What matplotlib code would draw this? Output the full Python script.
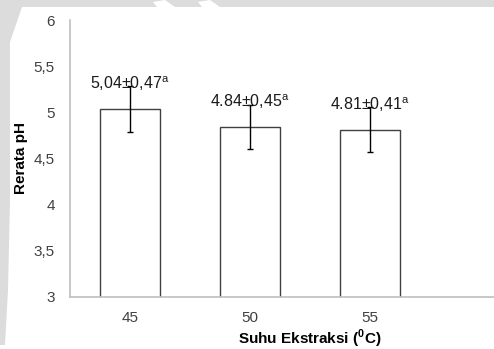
import matplotlib
matplotlib.use('Agg')
import matplotlib.pyplot as plt
from matplotlib.patches import Polygon, Rectangle

# pH rata-rata per suhu ekstraksi
suhu = ['45', '50', '55']
rerata_ph = [5.04, 4.84, 4.81]
sd_ph = ['0,47', '0,45', '0,41']
label_prefix = ['5,04', '4.84', '4.81']
notasi = ['a', 'a', 'a']
err_bar = [0.25, 0.24, 0.245]

yticks = [3, 3.5, 4, 4.5, 5, 5.5, 6]
ytick_labels = ['3', '3,5', '4', '4,5', '5', '5,5', '6']

plt.rcParams['font.family'] = ['Liberation Sans', 'DejaVu Sans']
plt.rcParams['mathtext.fontset'] = 'custom'
plt.rcParams['mathtext.rm'] = 'Liberation Sans'
plt.rcParams['mathtext.bf'] = 'Liberation Sans:bold'

W, H = 494, 349
fig = plt.figure(figsize=(W / 100, H / 100), dpi=100)


def px(x, y):
    return (x / W, 1 - y / H)


# background shading behind the chart
shade = '#dcdcdc'
fig.patches.append(Rectangle(px(0, 7), 1, 7 / H, transform=fig.transFigure,
                             facecolor=shade, edgecolor='none', zorder=0))
fig.patches.append(Polygon([px(0, 0), px(24, 0), px(22, 7), px(10, 42), px(10, 200),
                            px(8, 290), px(5, 345), px(0, 345)],
                           transform=fig.transFigure, facecolor=shade,
                           edgecolor='none', zorder=0))
for x0 in (153, 198):
    fig.patches.append(Polygon([px(x0, 2), px(x0 + 12, 0), px(x0 + 22, 7), px(x0 + 4, 7)],
                               transform=fig.transFigure, facecolor='white',
                               edgecolor='none', zorder=0))

ax = fig.add_axes([70 / W, 1 - 297 / H, 480 / W, 277 / H])
ax.set_facecolor('none')

pos = list(range(len(suhu)))
ax.bar(pos, rerata_ph, width=0.5, color='white', edgecolor='#404040', linewidth=1.0, zorder=2)
ax.errorbar(pos, rerata_ph, yerr=err_bar, fmt='none', ecolor='black',
            elinewidth=1.0, capsize=2.3, capthick=1.0, zorder=3)

for x, m, p, s, n in zip(pos, rerata_ph, label_prefix, sd_ph, notasi):
    ax.annotate(p + '±' + s + '$^{\\mathrm{' + n + '}}$', (x, m), xytext=(0, 18),
                textcoords='offset points', ha='center', va='center',
                fontsize=11.5, color='#1a1a1a', zorder=4)

ax.set_xlim(-0.5, 3.5)
ax.set_ylim(3, 6)
ax.set_xticks(pos)
ax.set_xticklabels(suhu)
ax.set_yticks(yticks)
ax.set_yticklabels(ytick_labels)
ax.tick_params(length=0, labelsize=11, labelcolor='#404040')
ax.tick_params(axis='y', pad=11)
ax.tick_params(axis='x', pad=10)

for side in ('top', 'right'):
    ax.spines[side].set_visible(False)
for side in ('left', 'bottom'):
    ax.spines[side].set_color('#bfbfbf')
    ax.spines[side].set_linewidth(1.2)

ax.set_xlabel('Suhu Ekstraksi ($^{\\mathbf{0}}$C)', fontsize=11, fontweight='bold', labelpad=2)
ax.set_ylabel('Rerata pH', fontsize=11, fontweight='bold')
ax.yaxis.set_label_coords(-42 / 480, 0.5)

fig.savefig('out.png', dpi=100)
